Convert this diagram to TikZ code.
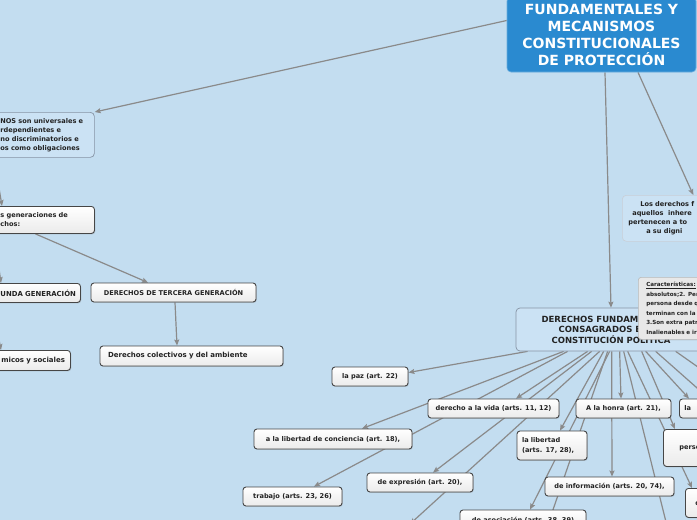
\documentclass[tikz,border=0pt]{standalone}
\usepackage{fontspec}
\setmainfont{DejaVu Sans}
\usetikzlibrary{arrows.meta,shadows,backgrounds}
\definecolor{bg}{RGB}{195,221,240}
\definecolor{titleblue}{RGB}{42,138,208}
\definecolor{topicfill}{RGB}{203,226,244}
\definecolor{topicline}{RGB}{135,148,165}
\definecolor{connc}{RGB}{138,138,138}
\definecolor{leafline}{RGB}{70,70,70}
\definecolor{txt}{RGB}{34,34,34}
\definecolor{notefill}{RGB}{232,232,232}
\definecolor{noteline}{RGB}{185,185,185}
\begin{document}
\begin{tikzpicture}[x=1pt,y=-1pt,
  every node/.style={font=\fontsize{6.6}{8.2}\selectfont\bfseries, text=txt},
  leaf/.style={draw=leafline, line width=0.9pt, rounded corners=3pt, top color=white, bottom color=black!8,
    drop shadow={shadow xshift=0.8pt, shadow yshift=-0.9pt, opacity=0.3}, inner sep=2pt, minimum height=19pt},
  topic/.style={draw=topicline, line width=0.7pt, rounded corners=4pt, fill=topicfill},
  softtopic/.style={draw=topicline!45, line width=0.6pt, rounded corners=4pt, fill=topicfill},
  notebox/.style={draw=noteline, line width=0.6pt, rounded corners=3pt, fill=notefill,
    drop shadow={shadow xshift=1pt, shadow yshift=-1pt, opacity=0.25}},
  titlebox/.style={fill=titleblue, draw=titleblue!70!white, line width=0.6pt, rounded corners=4pt, text=white,
    font=\fontsize{14}{17}\selectfont\bfseries, align=center},
  conn/.style={draw=connc, line width=1.2pt, -{Stealth[length=6pt,width=5pt,inset=1pt]}},
  plain/.style={draw=connc, line width=1.2pt}]
\useasboundingbox (0,0) rectangle (697,520);

% title
\node[titlebox, minimum width=189pt, minimum height=75pt] (title) at (601.5,34.5)
  {FUNDAMENTALES Y\\MECANISMOS\\CONSTITUCIONALES\\DE PROTECCIÓN};

% left branch
\node[topic, anchor=north west, minimum width=100pt, minimum height=45pt, text width=88pt, align=left,
  inner xsep=6pt, font=\fontsize{6.6}{9}\selectfont\bfseries] (uni) at (-6,112)
  {NOS son universales e\\rdependientes e\\no discriminatorios e\\os como obligaciones};
\node[leaf, anchor=north west, minimum width=100pt, minimum height=27pt, text width=88pt, align=left,
  inner xsep=6pt, font=\fontsize{6.6}{9}\selectfont\bfseries] (gen) at (-6,206)
  {s generaciones de\\chos:};
\node[leaf, anchor=north west, minimum width=88pt, text width=79pt, align=right, inner xsep=4pt,
  font=\fontsize{6.9}{8.4}\selectfont\bfseries] (unda) at (-8,283)
  {UNDA GENERACIÓN};
\node[leaf, minimum width=165pt] (terc) at (173.5,292.5) {DERECHOS DE TERCERA GENERACIÓN};
\node[leaf, anchor=north west, minimum width=76pt, minimum height=20pt, text width=65pt, align=right, inner xsep=5pt,
  font=\fontsize{7}{8.5}\selectfont\bfseries] (micos) at (-6,350) {micos y sociales};
\node[leaf, minimum width=183pt, minimum height=20pt, text width=167pt, align=left, inner xsep=8pt,
  font=\fontsize{7}{8.5}\selectfont\bfseries] (colect) at (191.5,356) {Derechos colectivos y del ambiente};

% right branch
\node[softtopic, anchor=north west, minimum width=100pt, minimum height=46pt, text width=88pt, align=left,
  inner xsep=6pt, font=\fontsize{6.6}{9}\selectfont\bfseries] (dfn) at (622,195)
  {\hspace*{12pt}Los derechos f\\\hspace*{4pt}aquellos\ \ inhere\\pertenecen a to\\\hspace*{18pt}a su digni};

\node[topic, minimum width=190pt, minimum height=43pt, align=center,
  font=\fontsize{8.5}{10.5}\selectfont\bfseries] (cen) at (611,329.5)
  {DERECHOS FUNDAMENTALES\\CONSAGRADOS EN LA\\CONSTITUCIÓN POLÍTICA};

\node[notebox, anchor=north west, minimum width=80pt, minimum height=62pt, text width=64pt, align=left,
  inner xsep=8pt, font=\fontsize{5.6}{9.5}\selectfont\bfseries] (note) at (638,277)
  {\underline{Características:}\\absolutos;2. Per\\persona desde q\\terminan con la\\3.Son extra patr\\Inalienables e ir};

% leaves of the central node
\node[leaf, minimum width=76pt] (paz) at (370,376.5) {la paz (art. 22)};
\node[leaf, minimum width=131pt] (vida) at (493.5,408.5) {derecho a la vida (arts. 11, 12)};
\node[leaf, minimum width=95pt] (honra) at (623.5,408.5) {A la honra (art. 21),};
\node[leaf, anchor=west, minimum width=40pt, text width=30pt, align=left, inner xsep=5pt] (lar) at (679,408.5) {la};
\node[leaf, minimum width=158pt, minimum height=20pt] (conc) at (333,439) {a la libertad de conciencia (art. 18),};
\node[leaf, minimum width=70pt, minimum height=29pt, text width=60pt, align=left, inner xsep=5pt,
  font=\fontsize{6.6}{10}\selectfont\bfseries] (lib) at (552,445.5) {la libertad\\(arts. 17, 28),};
\node[leaf, anchor=north west, minimum width=60pt, minimum height=37pt, text width=28pt, align=left, inner xsep=16pt]
  (perso) at (663,429) {perso};
\node[leaf, minimum width=106pt] (expr) at (420,482.5) {de expresión (art. 20),};
\node[leaf, minimum width=129pt] (inf) at (609.5,486.5) {de información (arts. 20, 74),};
\node[leaf, anchor=north west, minimum width=40pt, minimum height=29pt, text width=20pt, align=left, inner xsep=8pt]
  (dd) at (685,488) {d};
\node[leaf, minimum width=99pt] (trab) at (292.5,496.5) {trabajo (arts. 23, 26)};
\node[leaf, minimum width=126pt, minimum height=20pt] (asoc) at (523,520) {de asociación (arts. 38, 39)};

\coordinate (b1) at (410,524);
\coordinate (b2) at (546,530);
\coordinate (b3) at (668,530);
\coordinate (r1) at (705,395);
\coordinate (r2) at (705,372);

\begin{scope}[on background layer]
\fill[bg] (-20,-20) rectangle (720,540);
\draw[conn] ([yshift=14pt]title.west) -- (uni.north east);
\draw[conn] ([xshift=3.5pt]title.south) -- (cen.north);
\draw[conn] ([xshift=36.5pt]title.south) -- ([xshift=21pt]dfn.north);
\draw[conn] (uni.south west) -- ([xshift=8pt]gen.north west);
\draw[conn] (gen.south west) -- ([xshift=9pt]unda.north west);
\draw[conn] ([xshift=-9pt]gen.south) -- ([xshift=-25.5pt]terc.north);
\draw[conn] ([xshift=1.5pt]terc.south) -- ([xshift=-14.5pt]colect.north);
\draw[conn] (unda.south west) -- ([xshift=7pt]micos.north west);

\draw[conn] ([xshift=12pt]cen.south west) -- ([yshift=4pt]paz.east);
\draw[conn] ([xshift=48pt]cen.south west) -- ([xshift=29pt]conc.north);
\draw[conn] ([xshift=52pt]cen.south west) -- ([xshift=21.5pt]trab.north);
\draw[conn] ([xshift=72pt]cen.south west) -- ([xshift=22.5pt]vida.north);
\draw[conn] ([xshift=76pt]cen.south west) -- ([xshift=13pt]expr.north);
\draw[conn] ([xshift=84pt]cen.south west) -- (b1);
\draw[conn] ([xshift=88pt]cen.south west) -- ([xshift=8pt]lib.north);
\draw[conn] ([xshift=94pt]cen.south west) -- ([xshift=7pt]asoc.north);
\draw[conn] ([xshift=96pt]cen.south west) -- ([xshift=2.5pt]inf.north);
\draw[conn] ([xshift=92pt]cen.south west) -- (b2);
\draw[conn] ([xshift=104pt]cen.south west) -- ([xshift=-2.5pt]honra.north);
\draw[conn] ([xshift=108pt]cen.south west) -- (b3);
\draw[conn] ([xshift=112pt]cen.south west) -- ([xshift=7pt]dd.north west);
\draw[conn] ([xshift=126pt]cen.south west) -- ([xshift=12pt]perso.north west);
\draw[conn] ([xshift=130pt]cen.south west) -- ([xshift=10pt]lar.north west);
\draw[conn] ([xshift=140pt]cen.south west) -- (r1);
\draw[conn] ([xshift=160pt]cen.south west) -- (r2);
\end{scope}
\end{tikzpicture}
\end{document}
